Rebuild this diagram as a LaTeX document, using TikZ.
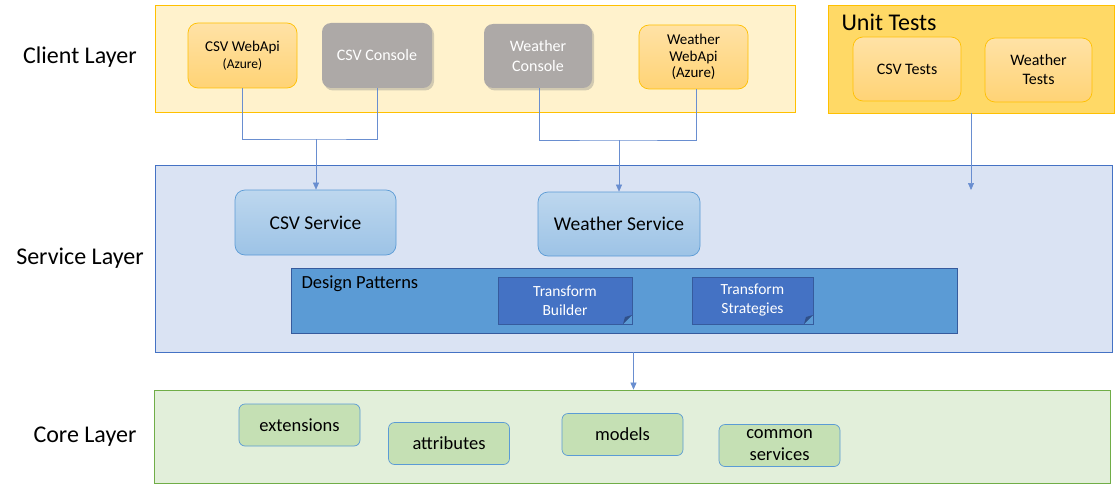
\documentclass[tikz,border=0pt]{standalone}
\usepackage{fontspec}
\setmainfont{Carlito}
\usetikzlibrary{arrows.meta,shadows}

\definecolor{clientbg}{HTML}{FFF2CC}
\definecolor{gold}{HTML}{FFC000}
\definecolor{apptop}{HTML}{FFE2A6}
\definecolor{appbottom}{HTML}{FFD375}
\definecolor{testbg}{HTML}{FFD966}
\definecolor{consolegray}{HTML}{ADA9A7}
\definecolor{servicebg}{HTML}{DAE3F3}
\definecolor{darkblue}{HTML}{4472C4}
\definecolor{midblue}{HTML}{5B9BD5}
\definecolor{corebg}{HTML}{E2EFDA}
\definecolor{coregreen}{HTML}{70AD47}
\definecolor{itemgreen}{HTML}{C5E0B4}

\tikzset{
	layer/.style={draw=#1, line width=0.8pt},
	layername/.style={font=\fontsize{24}{28}\selectfont},
	app/.style={draw=gold, line width=0.7pt, rounded corners=10pt, top color=apptop, bottom color=appbottom,
		align=center, font=\fontsize{15}{16.5}\selectfont},
	console/.style={fill=consolegray, rounded corners=9pt, text=white, align=center, font=\fontsize{16}{19.5}\selectfont,
		drop shadow={opacity=0.35, shadow xshift=2pt, shadow yshift=-2.5pt}},
	svc/.style={draw=midblue, line width=0.7pt, rounded corners=10pt, top color=midblue!40, bottom color=midblue!60,
		font=\fontsize{19.5}{23}\selectfont},
	pattern/.style={draw=darkblue!80!black, line width=0.6pt, fill=darkblue, text=white, align=center,
		font=\fontsize{15.5}{19}\selectfont,
		path picture={
			\fill[midblue] ([xshift=-9pt]path picture bounding box.south east) -- (path picture bounding box.south east)
				-- ([yshift=9pt]path picture bounding box.south east) -- cycle;
			\fill[darkblue!70!black] ([xshift=-9pt]path picture bounding box.south east)
				-- ([yshift=9pt]path picture bounding box.south east) -- ([xshift=-7pt,yshift=7pt]path picture bounding box.south east) -- cycle;
		}},
	item/.style={draw=midblue, line width=0.7pt, rounded corners=6pt, fill=itemgreen, align=center,
		minimum width=121pt, minimum height=42pt, font=\fontsize{18.5}{22}\selectfont},
	link/.style={draw=darkblue!80, line width=0.6pt},
	flow/.style={link, -{Triangle[width=6pt,length=7pt]}}
}

\begin{document}
\begin{tikzpicture}[x=1pt, y=-1pt]
	\useasboundingbox[fill=white] (0,0) rectangle (1115,484);
	% layers
	\node[layer=gold, fill=clientbg, minimum width=640pt, minimum height=107pt] (client) at (475,58.5) {};
	\node[layer=gold, fill=testbg, minimum width=286pt, minimum height=108pt] (tests) at (971,59) {};
	\node[layer=darkblue, fill=servicebg, minimum width=957pt, minimum height=187pt] (service) at (633.5,258.5) {};
	\node[layer=coregreen, fill=corebg, minimum width=956pt, minimum height=93pt] (core) at (632,436.5) {};
	\node[layername] (clientname) at (80,57) {Client Layer};
	\node[layername] (servicename) at (80,258) {Service Layer};
	\node[layername] (corename) at (85,437) {Core Layer};
	\node[layername, anchor=west] (testsname) at (838,22) {Unit Tests};
	% client layer
	\node[app, minimum width=109pt, minimum height=65pt] (csvapi) at (242.5,55.5) {CSV WebApi\\{\fontsize{13.5}{16.5}\selectfont(Azure)}};
	\node[console, minimum width=110pt, minimum height=65pt] (csvcon) at (377,55.5) {CSV Console};
	\node[console, minimum width=108pt, minimum height=64pt] (wcon) at (538,56) {Weather\\Console};
	\node[app, minimum width=109pt, minimum height=64pt] (wapi) at (693.5,57) {Weather\\WebApi\\(Azure)};
	% unit tests
	\node[app, font=\fontsize{16}{19}\selectfont, minimum width=108pt, minimum height=64pt] (tcsv) at (907,69) {CSV Tests};
	\node[app, font=\fontsize{16}{19}\selectfont, minimum width=107pt, minimum height=64pt] (tweather) at (1038.5,70) {Weather\\Tests};
	% service layer
	\node[svc, minimum width=161pt, minimum height=65pt] (csvsvc) at (315.5,222.5) {CSV Service};
	\node[svc, minimum width=162pt, minimum height=64pt] (wsvc) at (619,224) {Weather Service};
	\node[draw=darkblue!80!black, line width=0.6pt, fill=midblue, minimum width=666pt, minimum height=65pt] (patterns) at (624,300.5) {};
	\node[anchor=west, font=\fontsize{18.5}{22}\selectfont] (patternsname) at (298,284) {Design Patterns};
	\node[pattern, minimum width=134pt, minimum height=47pt] (tbuilder) at (565,300.5) {Transform\\Builder};
	\node[pattern, minimum width=121pt, minimum height=47pt] (tstrat) at (752.5,300.5) {Transform\\Strategies};
	% core layer
	\node[item] (ext) at (299.5,425) {extensions};
	\node[item] (attr) at (449,443.5) {attributes};
	\node[item] (models) at (622.5,434.5) {models};
	\node[item] (common) at (779.5,445.5) {common\\services};
	% connectors
	\coordinate (csvjoin) at (316,139);
	\coordinate (wjoin) at (619,140);
	\coordinate (testin) at (971,190);
	\draw[link] (csvapi.south) |- (csvjoin) -| (csvcon.south);
	\draw[flow] (csvjoin) -- (csvjoin |- csvsvc.north);
	\draw[link] ([xshift=1pt]wcon.south) |- (wjoin) -| ([xshift=2.5pt]wapi.south);
	\draw[flow] (wjoin) -- (wjoin |- wsvc.north);
	\draw[flow] (tests.south) -- (testin);
	\draw[flow] (service.south) -- (service.south |- core.north);
\end{tikzpicture}
\end{document}
